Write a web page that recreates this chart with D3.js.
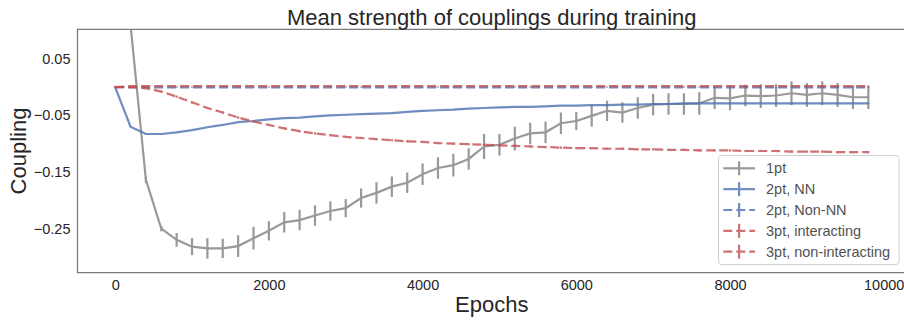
<!DOCTYPE html>
<html>
<head>
<meta charset="utf-8">
<script src="https://cdnjs.cloudflare.com/ajax/libs/d3/7.8.5/d3.min.js"></script>
<style>
  body { margin: 0; background: #fff; }
  svg { font-family: "Liberation Sans", Arial, sans-serif; }
  .tick text { fill: #262626; font-size: 14.5px; }
</style>
</head>
<body>
<div id="chart"></div>
<script>
var W = 904, H = 321;

// epochs at which couplings were recorded
var epochs = [0, 200, 400, 600, 800, 1000, 1200, 1400, 1600, 1800,
  2000, 2200, 2400, 2600, 2800, 3000, 3200, 3400, 3600, 3800,
  4000, 4200, 4400, 4600, 4800, 5000, 5200, 5400, 5600, 5800,
  6000, 6200, 6400, 6600, 6800, 7000, 7200, 7400, 7600, 7800,
  8000, 8200, 8400, 8600, 8800, 9000, 9200, 9400, 9600, 9800];

var onePt = [0.50, 0.110, -0.164, -0.250, -0.270, -0.282, -0.285, -0.285, -0.281, -0.267,
  -0.254, -0.239, -0.235, -0.227, -0.219, -0.214, -0.196, -0.187, -0.176, -0.169,
  -0.154, -0.143, -0.138, -0.127, -0.105, -0.102, -0.091, -0.082, -0.080, -0.064,
  -0.060, -0.051, -0.042, -0.045, -0.037, -0.031, -0.030, -0.030, -0.029, -0.019,
  -0.020, -0.015, -0.016, -0.015, -0.011, -0.014, -0.011, -0.014, -0.018, -0.018];
var onePtErr = [0.0, 0.003, 0.006, 0.005, 0.012, 0.015, 0.018, 0.017, 0.019, 0.020,
  0.017, 0.018, 0.018, 0.018, 0.017, 0.016, 0.017, 0.019, 0.018, 0.018,
  0.019, 0.019, 0.020, 0.019, 0.022, 0.019, 0.021, 0.019, 0.019, 0.019,
  0.016, 0.019, 0.018, 0.018, 0.019, 0.019, 0.019, 0.019, 0.020, 0.020,
  0.021, 0.019, 0.021, 0.020, 0.021, 0.021, 0.021, 0.021, 0.021, 0.021];

var twoPtNN = [0.000, -0.070, -0.083, -0.083, -0.080, -0.076, -0.071, -0.067, -0.062, -0.060,
  -0.057, -0.055, -0.054, -0.052, -0.050, -0.049, -0.048, -0.047, -0.046, -0.044,
  -0.042, -0.041, -0.040, -0.038, -0.037, -0.036, -0.035, -0.035, -0.034, -0.033,
  -0.033, -0.032, -0.032, -0.031, -0.031, -0.030, -0.030, -0.029, -0.029, -0.029,
  -0.029, -0.029, -0.029, -0.029, -0.029, -0.029, -0.029, -0.029, -0.029, -0.029];

var twoPtNonNN = [0.000, -0.0005, -0.0005, -0.0005, -0.0005, -0.0005, -0.0005, -0.0005, -0.0005, -0.0005,
  -0.0005, -0.0005, -0.0005, -0.0005, -0.0005, -0.0005, -0.0005, -0.0005, -0.0005, -0.0005,
  -0.0005, -0.0005, -0.0005, -0.0005, -0.0005, -0.0005, -0.0005, -0.0005, -0.0005, -0.0005,
  -0.0005, -0.0005, -0.0005, -0.0005, -0.0005, -0.0005, -0.0005, -0.0005, -0.0005, -0.0005,
  -0.0005, -0.0005, -0.0005, -0.0005, -0.0005, -0.0005, -0.0005, -0.0005, -0.0005, -0.0005];

var threePtInt = [0.000, -0.000, -0.002, -0.008, -0.017, -0.027, -0.037, -0.045, -0.054, -0.061,
  -0.067, -0.073, -0.078, -0.082, -0.085, -0.088, -0.090, -0.092, -0.094, -0.096,
  -0.097, -0.099, -0.100, -0.101, -0.102, -0.103, -0.104, -0.105, -0.106, -0.107,
  -0.108, -0.108, -0.109, -0.109, -0.110, -0.110, -0.111, -0.111, -0.112, -0.112,
  -0.112, -0.113, -0.113, -0.113, -0.114, -0.114, -0.114, -0.115, -0.115, -0.115];

var threePtNonInt = [0.000, 0.0015, 0.0015, 0.0015, 0.0015, 0.0015, 0.0015, 0.0015, 0.0015, 0.0015,
  0.0015, 0.0015, 0.0015, 0.0015, 0.0015, 0.0015, 0.0015, 0.0015, 0.0015, 0.0015,
  0.0015, 0.0015, 0.0015, 0.0015, 0.0015, 0.0015, 0.0015, 0.0015, 0.0015, 0.0015,
  0.0015, 0.0015, 0.0015, 0.0015, 0.0015, 0.0015, 0.0015, 0.0015, 0.0015, 0.0015,
  0.0015, 0.0015, 0.0015, 0.0015, 0.0015, 0.0015, 0.0015, 0.0015, 0.0015, 0.0015];

var xTicks = [0, 2000, 4000, 6000, 8000, 10000];
var yTicks = [0.05, -0.05, -0.15, -0.25];

var series = [
  { name: "1pt", values: onePt, err: onePtErr, color: "#808080", dash: null },
  { name: "2pt, NN", values: twoPtNN, err: 0.001, color: "#4C72B0", dash: null },
  { name: "2pt, Non-NN", values: twoPtNonNN, err: 0.0005, color: "#4C72B0", dash: "9,4" },
  { name: "3pt, interacting", values: threePtInt, err: 0.002, color: "#C44E52", dash: "9,4" },
  { name: "3pt, non-interacting", values: threePtNonInt, err: 0.0005, color: "#C44E52", dash: "9,4" }
];

var margin = { left: 77.5, top: 29.3, right: 0, bottom: 48.3 };

var x = d3.scaleLinear().domain([-490, 10290]).range([margin.left, 906]);
var y = d3.scaleLinear().domain([-0.328, 0.102]).range([H - margin.bottom, margin.top]);

var svg = d3.select("#chart").append("svg")
  .attr("width", W)
  .attr("height", H);

svg.append("defs").append("clipPath")
  .attr("id", "plotclip")
  .append("rect")
  .attr("x", x.range()[0])
  .attr("y", y.range()[1])
  .attr("width", x.range()[1] - x.range()[0])
  .attr("height", y.range()[0] - y.range()[1]);

var fmtY = function(d) { return d3.format(".2f")(d).replace("-", "\u2212"); };

// axes (no tick marks, seaborn white style)
svg.append("g")
  .attr("transform", "translate(0," + y.range()[0] + ")")
  .call(d3.axisBottom(x).tickValues(xTicks).tickSize(0).tickPadding(7.5).tickFormat(d3.format("d")))
  .call(g => g.select(".domain").remove());

svg.append("g")
  .attr("transform", "translate(" + x.range()[0] + ",0)")
  .call(d3.axisLeft(y).tickValues(yTicks).tickSize(0).tickPadding(7).tickFormat(fmtY))
  .call(g => g.select(".domain").remove());

// spines: left, top, bottom
var spine = svg.append("g").attr("stroke", "#7a7a7a").attr("stroke-width", 1.3).attr("fill", "none");
spine.append("path").attr("d", "M" + x.range()[1] + "," + y.range()[1] + "H" + x.range()[0] + "V" + y.range()[0] + "H" + x.range()[1]);

var plot = svg.append("g").attr("clip-path", "url(#plotclip)");

var line = d3.line()
  .x((d, i) => x(epochs[i]))
  .y(d => y(d));

series.forEach(function(s) {
  var g = plot.append("g").attr("opacity", 0.8);
  g.append("path")
    .datum(s.values)
    .attr("fill", "none")
    .attr("stroke", s.color)
    .attr("stroke-width", 2.2)
    .attr("stroke-dasharray", s.dash)
    .attr("d", line);

  g.selectAll(".err")
    .data(s.values)
    .enter().append("line")
    .attr("stroke", s.color)
    .attr("stroke-width", 2.2)
    .attr("x1", (d, i) => x(epochs[i]))
    .attr("x2", (d, i) => x(epochs[i]))
    .attr("y1", (d, i) => y(d - (Array.isArray(s.err) ? s.err[i] : s.err)))
    .attr("y2", (d, i) => y(d + (Array.isArray(s.err) ? s.err[i] : s.err)));
});

// title and axis labels
svg.append("text")
  .attr("x", (x.range()[0] + x.range()[1]) / 2)
  .attr("y", 25)
  .attr("text-anchor", "middle")
  .style("font-size", "22px")
  .style("fill", "#262626")
  .text("Mean strength of couplings during training");

svg.append("text")
  .attr("x", (x.range()[0] + x.range()[1]) / 2)
  .attr("y", 312)
  .attr("text-anchor", "middle")
  .style("font-size", "22px")
  .style("fill", "#262626")
  .text("Epochs");

svg.append("text")
  .attr("transform", "translate(26," + (y.range()[0] + y.range()[1]) / 2 + ") rotate(-90)")
  .attr("text-anchor", "middle")
  .style("font-size", "22px")
  .style("fill", "#262626")
  .text("Coupling");

// legend
var legend = svg.append("g").attr("transform", "translate(718.5,155.5)");
legend.append("rect")
  .attr("width", 180.5)
  .attr("height", 109)
  .attr("rx", 3)
  .attr("fill", "#fff")
  .attr("fill-opacity", 0.8)
  .attr("stroke", "#d0d0d0")
  .attr("stroke-width", 1);

var items = legend.selectAll(".item")
  .data(series)
  .enter().append("g")
  .attr("class", "item")
  .attr("transform", (d, i) => "translate(0," + (12.8 + i * 20.85) + ")")
  .attr("opacity", 0.8);

items.append("line")
  .attr("x1", 4.8).attr("x2", 36.5)
  .attr("stroke", d => d.color)
  .attr("stroke-width", 2.2)
  .attr("stroke-dasharray", d => d.dash);

items.append("line")
  .attr("x1", 20.6).attr("x2", 20.6)
  .attr("y1", -7).attr("y2", 7)
  .attr("stroke", d => d.color)
  .attr("stroke-width", 2.2);

items.append("text")
  .attr("x", 47.5)
  .attr("dy", "0.35em")
  .style("font-size", "14.5px")
  .style("fill", "#262626")
  .attr("opacity", 1 / 0.8)
  .text(d => d.name);
</script>
</body>
</html>
